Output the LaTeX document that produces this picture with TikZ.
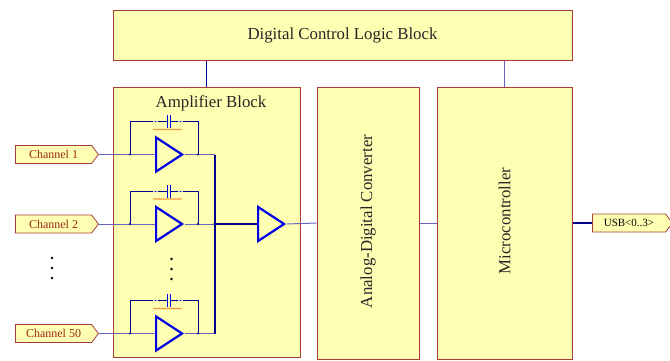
\documentclass[tikz,border=0pt]{standalone}
\usepackage{fontspec}
\setmainfont{Liberation Serif}
\usetikzlibrary{shapes.geometric,shapes.symbols,decorations.pathmorphing}
\definecolor{blockfill}{RGB}{255,255,180}
\definecolor{blockline}{RGB}{170,60,60}
\definecolor{wireblue}{RGB}{100,100,190}
\definecolor{navy}{RGB}{0,0,140}
\definecolor{ampblue}{RGB}{0,0,230}
\definecolor{chantext}{RGB}{150,40,20}
\definecolor{pinblue}{RGB}{170,190,240}
\definecolor{capline}{RGB}{240,150,60}
\tikzset{
    block/.style={draw=blockline,fill=blockfill,line width=1pt,inner sep=0pt},
    blocktext/.style={font=\fontsize{16.8}{18}\selectfont,text=black!85},
    portlabel/.style={signal,signal to=east,signal pointer angle=105,draw=blockline,
        fill=blockfill,line width=0.8pt,inner sep=0pt,minimum height=18,
        font=\fontsize{12}{13}\selectfont},
    opamp/.style={isosceles triangle,isosceles triangle stretches,draw=ampblue,
        line width=2.2pt,inner sep=0pt,minimum width=34,minimum height=26,anchor=west},
    wire/.style={draw=wireblue,line width=1pt},
    fbwire/.style={draw=navy,line width=0.9pt},
    buswire/.style={draw=navy,line width=2.6pt}
}
\begin{document}
\begin{tikzpicture}[x=1pt,y=-1pt]
    \useasboundingbox (0,0) rectangle (670,360);
    \node[block,minimum width=459,minimum height=50,blocktext] (ctrl) at (342.5,35)
        {Digital Control Logic Block};
    \node[block,minimum width=187,minimum height=270] (amp) at (206.5,222.5) {};
    \node[blocktext] (amptitle) at (211,103) {Amplifier Block};
    \node[block,minimum width=102,minimum height=272] (adc) at (368,223) {};
    \node[blocktext,rotate=90] (adctext) at (368,221.5) {Analog-Digital Converter};
    \node[block,minimum width=135,minimum height=272] (mcu) at (504.5,223) {};
    \node[blocktext,rotate=90] (mcutext) at (504.5,221) {Microcontroller};
    \draw[fbwire] (amp.north |- ctrl.south) -- (amp.north);
    \draw[wire] (mcu.north |- ctrl.south) -- (mcu.north);
    \foreach \n/\y/\t in {1/154.5/1,2/224/2,3/333.5/50}{
        \node[portlabel,minimum width=83,text=chantext] (chan\n) at (53.5,\y) {Channel \t};
        \node[opamp] (op\n) at (155,\y) {};
        \coordinate (in\n) at (130,\y);
        \coordinate (out\n) at (198,\y);
        \coordinate (bus\n) at (215,\y);
        \coordinate (capl\n) at (167.3,\y-33);
        \coordinate (capr\n) at (170.5,\y-33);
        \draw[wire] (chan\n.east) -- (op\n.west);
        \draw[wire] (op\n.east) -- (bus\n);
        \draw[fbwire] (in\n) |- (capl\n);
        \draw[fbwire] (capr\n) -| (out\n);
        \draw[draw=ampblue,line width=1pt] ([yshift=-6.5]capl\n) -- ([yshift=6.5]capl\n)
            ([yshift=-6.5]capr\n) -- ([yshift=6.5]capr\n);
        \draw[pinblue,line width=0.6pt,dash pattern=on 1.5pt off 1.5pt]
            (153,\y-33) -- (158,\y-33) (178,\y-33) -- (183,\y-33);
        \draw[capline,line width=0.6pt,decorate,
            decoration={snake,amplitude=0.4pt,segment length=1.5pt}]
            (153,\y-25) -- (182,\y-25);
        \fill[navy] (in\n) circle (1.2) (out\n) circle (1.2);
    }
    \draw[buswire] (bus1) -- (bus3);
    \node[opamp] (mainamp) at (257,224) {};
    \draw[buswire] (bus2) -- (mainamp.west);
    \fill[navy] (bus2) circle (1.8);
    \draw[wire] (mainamp.east) -- (adc.west);
    \draw[wire] (adc.east) -- (mcu.west);
    \node[portlabel,minimum width=80,font=\fontsize{11}{12}\selectfont] (usb) at (629,223)
        {USB<0..3>};
    \draw[buswire] (mcu.east) -- (usb.west);
    \foreach \y in {258,268,278}{
        \fill (52,\y) circle (1.4);
        \fill (171.5,\y+1) circle (1.4);
    }
\end{tikzpicture}
\end{document}
